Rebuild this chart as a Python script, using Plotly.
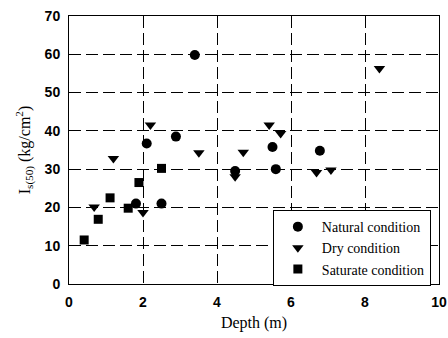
import plotly.graph_objects as go

# Natural condition
nat_x = [1.81, 2.5, 2.1, 2.89, 3.4, 4.49, 5.5, 5.59, 6.78]
nat_y = [21.0, 21.0, 36.7, 38.5, 59.8, 29.5, 35.8, 30.0, 34.8]
# Dry condition
dry_x = [0.68, 1.2, 2.0, 2.2, 3.51, 4.49, 4.71, 5.41, 5.72, 6.69, 7.08, 8.39]
dry_y = [20.1, 32.8, 18.7, 41.5, 34.3, 28.0, 34.4, 41.5, 39.3, 29.1, 29.8, 56.3]
# Saturate condition
sat_x = [0.41, 0.79, 1.11, 1.6, 1.89, 2.5]
sat_y = [11.5, 16.9, 22.5, 19.8, 26.5, 30.2]

x_ticks = [0, 2, 4, 6, 8, 10]
y_ticks = [0, 10, 20, 30, 40, 50, 60, 70]

fig = go.Figure()
fig.add_trace(go.Scatter(x=nat_x, y=nat_y, mode="markers", name="Natural condition",
                         marker=dict(symbol="circle", size=10, color="black")))
fig.add_trace(go.Scatter(x=dry_x, y=dry_y, mode="markers", name="Dry condition",
                         marker=dict(symbol="triangle-down", size=10, color="black")))
fig.add_trace(go.Scatter(x=sat_x, y=sat_y, mode="markers", name="Saturate condition",
                         marker=dict(symbol="square", size=9, color="black")))

axis_common = dict(
    showgrid=True, gridcolor="black", griddash="12px,5px", gridwidth=1,
    showline=True, linecolor="black", linewidth=1, mirror=True,
    zeroline=False, ticks="outside", ticklen=5, tickcolor="rgba(0,0,0,0)",
    automargin=False,
    tickfont=dict(family="Liberation Sans, Arial", size=14, color="black", weight="bold"),
)

serif = "Liberation Serif, Times New Roman"

fig.update_layout(
    width=448, height=338,
    margin=dict(l=69, r=9, t=16, b=54),
    paper_bgcolor="white", plot_bgcolor="white",
    xaxis=dict(range=[0, 10], tickvals=x_ticks, **axis_common,
               title=dict(text="Depth (m)", standoff=8,
                          font=dict(family=serif, size=16, color="black"))),
    yaxis=dict(range=[0, 70], tickvals=y_ticks, **axis_common,
               title=dict(text="I<sub>s(50)</sub> (kg/cm<sup>2</sup>)", standoff=10,
                          font=dict(family=serif, size=16, color="black"))),
    legend=dict(x=0.551, y=0.276, xanchor="left", yanchor="top",
                bgcolor="white", bordercolor="black", borderwidth=1,
                font=dict(family=serif, size=14, color="black"),
                itemwidth=38, tracegroupgap=0),
    showlegend=True,
)

fig.write_html("out.html", config={"displayModeBar": False},
               post_script="document.body.style.margin='0';document.body.style.overflow='hidden';")
